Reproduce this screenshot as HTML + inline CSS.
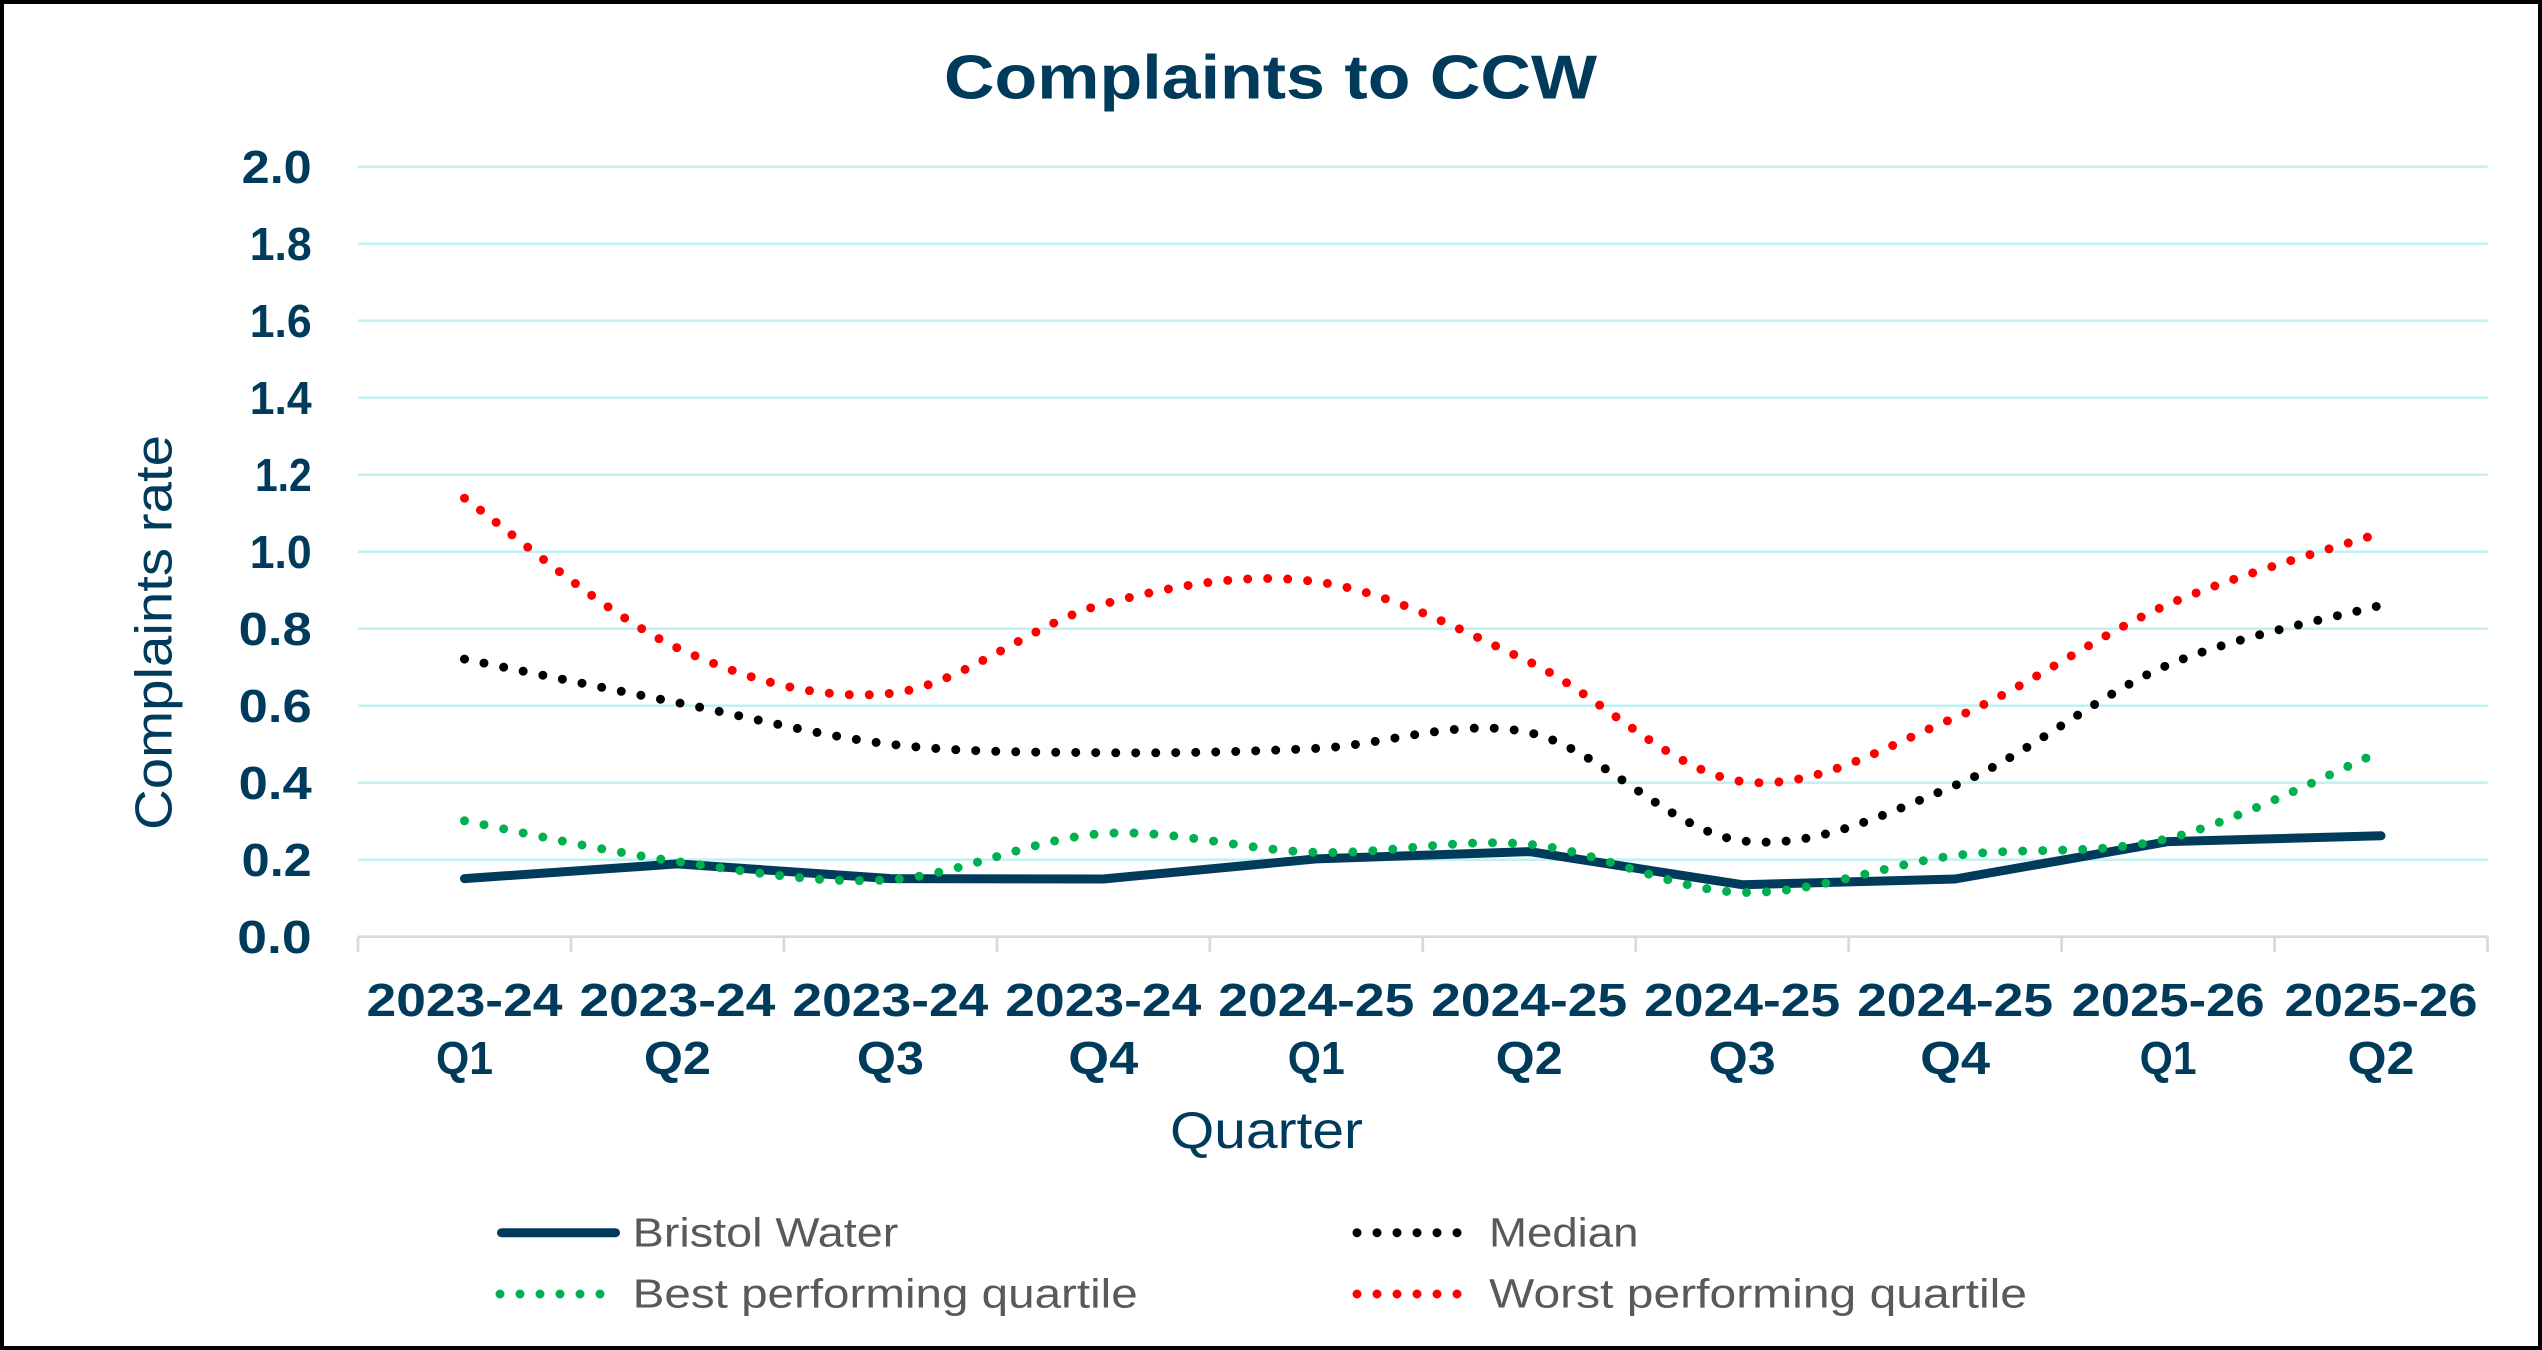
<!DOCTYPE html>
<html>
<head>
<meta charset="utf-8">
<style>
  html, body { margin: 0; padding: 0; background: #ffffff; }
  svg { display: block; }
  text { font-family: "Liberation Sans", Arial, sans-serif; }
</style>
</head>
<body>
<svg width="2542" height="1350" viewBox="0 0 2542 1350" xmlns="http://www.w3.org/2000/svg">
  <rect x="2" y="2" width="2538" height="1346" fill="#ffffff" stroke="#000000" stroke-width="4"/>

  <!-- Title -->
  <text x="944" y="98.3" font-size="62" font-weight="bold" fill="#003B5C" textLength="653" lengthAdjust="spacingAndGlyphs">Complaints to CCW</text>

  <!-- Gridlines -->
  <g stroke="#C3F0F0" stroke-width="2.7">
    <line x1="358" y1="166.7" x2="2487.5" y2="166.7"/>
    <line x1="358" y1="243.7" x2="2487.5" y2="243.7"/>
    <line x1="358" y1="320.7" x2="2487.5" y2="320.7"/>
    <line x1="358" y1="397.7" x2="2487.5" y2="397.7"/>
    <line x1="358" y1="474.7" x2="2487.5" y2="474.7"/>
    <line x1="358" y1="551.7" x2="2487.5" y2="551.7"/>
    <line x1="358" y1="628.7" x2="2487.5" y2="628.7"/>
    <line x1="358" y1="705.7" x2="2487.5" y2="705.7"/>
    <line x1="358" y1="782.7" x2="2487.5" y2="782.7"/>
    <line x1="358" y1="859.7" x2="2487.5" y2="859.7"/>
  </g>

  <!-- X axis & ticks -->
  <g stroke="#D9D9D9" stroke-width="2.7">
    <line x1="358" y1="936.7" x2="2487.5" y2="936.7"/>
    <line x1="358" y1="936.7" x2="358" y2="952"/>
    <line x1="571" y1="936.7" x2="571" y2="952"/>
    <line x1="783.9" y1="936.7" x2="783.9" y2="952"/>
    <line x1="996.9" y1="936.7" x2="996.9" y2="952"/>
    <line x1="1209.8" y1="936.7" x2="1209.8" y2="952"/>
    <line x1="1422.8" y1="936.7" x2="1422.8" y2="952"/>
    <line x1="1635.7" y1="936.7" x2="1635.7" y2="952"/>
    <line x1="1848.7" y1="936.7" x2="1848.7" y2="952"/>
    <line x1="2061.6" y1="936.7" x2="2061.6" y2="952"/>
    <line x1="2274.6" y1="936.7" x2="2274.6" y2="952"/>
    <line x1="2487.5" y1="936.7" x2="2487.5" y2="952"/>
  </g>

  <!-- Y tick labels -->
  <g font-size="46" font-weight="bold" fill="#003B5C">
    <text x="241.7" y="183.2" textLength="70" lengthAdjust="spacingAndGlyphs">2.0</text>
    <text x="249.7" y="260.2" textLength="62" lengthAdjust="spacingAndGlyphs">1.8</text>
    <text x="249.7" y="337.2" textLength="62" lengthAdjust="spacingAndGlyphs">1.6</text>
    <text x="249.7" y="414.2" textLength="62" lengthAdjust="spacingAndGlyphs">1.4</text>
    <text x="255.0" y="491.2" textLength="56.7" lengthAdjust="spacingAndGlyphs">1.2</text>
    <text x="249.7" y="568.2" textLength="62" lengthAdjust="spacingAndGlyphs">1.0</text>
    <text x="238.7" y="645.2" textLength="73" lengthAdjust="spacingAndGlyphs">0.8</text>
    <text x="238.7" y="722.2" textLength="73" lengthAdjust="spacingAndGlyphs">0.6</text>
    <text x="238.7" y="799.2" textLength="73" lengthAdjust="spacingAndGlyphs">0.4</text>
    <text x="241.7" y="876.2" textLength="70" lengthAdjust="spacingAndGlyphs">0.2</text>
    <text x="237.3" y="953.2" textLength="74.4" lengthAdjust="spacingAndGlyphs">0.0</text>
  </g>

  <!-- X tick labels -->
  <g font-size="46" font-weight="bold" fill="#003B5C">
    <text x="366.5" y="1016" textLength="196" lengthAdjust="spacingAndGlyphs">2023-24</text>
    <text x="436.0" y="1074" textLength="57" lengthAdjust="spacingAndGlyphs">Q1</text>

    <text x="579.4" y="1016" textLength="196" lengthAdjust="spacingAndGlyphs">2023-24</text>
    <text x="643.9" y="1074" textLength="67" lengthAdjust="spacingAndGlyphs">Q2</text>

    <text x="792.4" y="1016" textLength="196" lengthAdjust="spacingAndGlyphs">2023-24</text>
    <text x="856.9" y="1074" textLength="67" lengthAdjust="spacingAndGlyphs">Q3</text>

    <text x="1005.3" y="1016" textLength="196" lengthAdjust="spacingAndGlyphs">2023-24</text>
    <text x="1068.3" y="1074" textLength="70" lengthAdjust="spacingAndGlyphs">Q4</text>

    <text x="1218.3" y="1016" textLength="196" lengthAdjust="spacingAndGlyphs">2024-25</text>
    <text x="1287.8" y="1074" textLength="57" lengthAdjust="spacingAndGlyphs">Q1</text>

    <text x="1431.2" y="1016" textLength="196" lengthAdjust="spacingAndGlyphs">2024-25</text>
    <text x="1495.7" y="1074" textLength="67" lengthAdjust="spacingAndGlyphs">Q2</text>

    <text x="1644.2" y="1016" textLength="196" lengthAdjust="spacingAndGlyphs">2024-25</text>
    <text x="1708.7" y="1074" textLength="67" lengthAdjust="spacingAndGlyphs">Q3</text>

    <text x="1857.1" y="1016" textLength="196" lengthAdjust="spacingAndGlyphs">2024-25</text>
    <text x="1920.1" y="1074" textLength="70" lengthAdjust="spacingAndGlyphs">Q4</text>

    <text x="2071.6" y="1016" textLength="193" lengthAdjust="spacingAndGlyphs">2025-26</text>
    <text x="2139.6" y="1074" textLength="57" lengthAdjust="spacingAndGlyphs">Q1</text>

    <text x="2284.5" y="1016" textLength="193" lengthAdjust="spacingAndGlyphs">2025-26</text>
    <text x="2347.5" y="1074" textLength="67" lengthAdjust="spacingAndGlyphs">Q2</text>
  </g>

  <!-- Axis titles -->
  <text transform="translate(171.7,830) rotate(-90)" x="0" y="0" font-size="52" fill="#003B5C" textLength="395" lengthAdjust="spacingAndGlyphs">Complaints rate</text>
  <text x="1170" y="1148" font-size="52" fill="#003B5C" textLength="193" lengthAdjust="spacingAndGlyphs">Quarter</text>

  <!-- Series: Bristol Water -->
  <polyline fill="none" stroke="#003B5C" stroke-width="9" stroke-linecap="round" stroke-linejoin="round"
    points="464.5,878.6 677.4,863.9 890.4,878.6 1103.3,879.0 1316.3,858.9 1529.2,851.6 1742.2,884.7 1955.1,879.0 2168.1,841.6 2381.0,835.8"/>

  <!-- Series: Median -->
  <path fill="none" stroke="#000000" stroke-width="9" stroke-linecap="round" stroke-dasharray="0 20"
    d="M 464.5 659.1
       C 500.0 666.35, 606.4 688.42, 677.4 702.6
       C 748.4 716.78, 819.4 735.85, 890.4 744.2
       C 961.4 752.55, 1032.3 752.0, 1103.3 752.7
       C 1174.3 753.4, 1245.3 751.75, 1316.3 748.4
       C 1387.3 745.05, 1458.2 717.2, 1529.2 732.6
       C 1600.2 748.0, 1671.2 832.0, 1742.2 840.8
       C 1813.2 849.6, 1884.1 814.72, 1955.1 785.4
       C 2026.1 756.08, 2097.1 694.93, 2168.1 664.9
       C 2239.1 634.87, 2345.5 615.15, 2381.0 605.2"/>

  <!-- Series: Best performing quartile -->
  <path fill="none" stroke="#00B050" stroke-width="9" stroke-linecap="round" stroke-dasharray="0 20"
    d="M 464.5 820.8
       C 500.0 827.6, 606.4 851.78, 677.4 861.6
       C 748.4 871.42, 819.4 884.38, 890.4 879.7
       C 961.4 875.02, 1032.3 838.05, 1103.3 833.5
       C 1174.3 828.95, 1245.3 850.6, 1316.3 852.4
       C 1387.3 854.2, 1458.2 837.63, 1529.2 844.3
       C 1600.2 850.97, 1671.2 890.53, 1742.2 892.4
       C 1813.2 894.27, 1884.1 864.48, 1955.1 855.5
       C 2026.1 846.52, 2097.1 855.83, 2168.1 838.5
       C 2239.1 821.17, 2345.5 766.0, 2381.0 751.5"/>

  <!-- Series: Worst performing quartile -->
  <path fill="none" stroke="#FF0000" stroke-width="9" stroke-linecap="round" stroke-dasharray="0 20"
    d="M 464.5 498.2
       C 500.0 523.16, 606.4 615.42, 677.4 647.95
       C 748.4 680.48, 819.4 700.71, 890.4 693.4
       C 961.4 686.09, 1032.3 622.72, 1103.3 604.1
       C 1174.3 585.48, 1245.3 572.08, 1316.3 581.7
       C 1387.3 591.32, 1458.2 628.5, 1529.2 661.8
       C 1600.2 695.1, 1671.2 772.2, 1742.2 781.5
       C 1813.2 790.8, 1884.1 747.12, 1955.1 717.6
       C 2026.1 688.08, 2097.1 635.2, 2168.1 604.4
       C 2239.1 573.6, 2345.5 544.73, 2381.0 532.8"/>

  <!-- Legend -->
  <line x1="501.5" y1="1232.7" x2="615.5" y2="1232.7" stroke="#003B5C" stroke-width="9" stroke-linecap="round"/>
  <path d="M 500 1294 H 600.5" fill="none" stroke="#00B050" stroke-width="9" stroke-linecap="round" stroke-dasharray="0 20"/>
  <path d="M 1357 1232.7 H 1457.5" fill="none" stroke="#000000" stroke-width="9" stroke-linecap="round" stroke-dasharray="0 20"/>
  <path d="M 1357 1294 H 1457.5" fill="none" stroke="#FF0000" stroke-width="9" stroke-linecap="round" stroke-dasharray="0 20"/>

  <g font-size="41" fill="#595959">
    <text x="632.7" y="1246.7" textLength="265.6" lengthAdjust="spacingAndGlyphs">Bristol Water</text>
    <text x="632.7" y="1307.3" textLength="505" lengthAdjust="spacingAndGlyphs">Best performing quartile</text>
    <text x="1489" y="1246.7" textLength="149.5" lengthAdjust="spacingAndGlyphs">Median</text>
    <text x="1489" y="1307.3" textLength="538" lengthAdjust="spacingAndGlyphs">Worst performing quartile</text>
  </g>
</svg>
</body>
</html>
